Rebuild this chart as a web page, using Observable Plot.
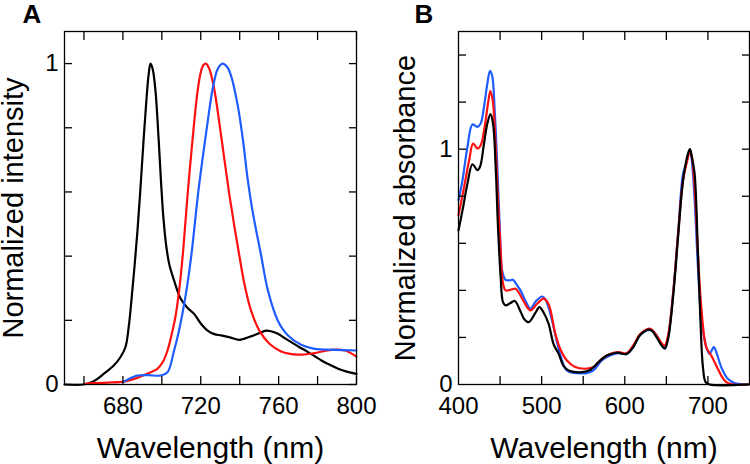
<!DOCTYPE html>
<html><head><meta charset="utf-8">
<script src="https://cdn.jsdelivr.net/npm/d3@7"></script>
<script src="https://cdn.jsdelivr.net/npm/@observablehq/plot@0.6"></script>
<style>
body{margin:0;background:#fff;}
#wrap{display:flex;width:750px;height:464px;}
#wrap svg{overflow:visible;display:block;}
</style></head><body><div id="wrap"></div>
<script>
// ---- Panel A: emission spectra [wavelength nm, normalized intensity]
const emBlack = [[650,0],[659.8,0],[665,0.01],[670.1,0.033],[675.3,0.059],[678.7,0.085],[681.3,0.116],[683,0.18],[684.5,0.27],[686,0.37],[687.5,0.48],[689,0.61],[690.5,0.75],[692,0.88],[693.2,0.965],[694.2,1.0],[695.4,0.98],[696.8,0.91],[698.3,0.77],[699.6,0.63],[700.8,0.52],[702.3,0.43],[703.9,0.372],[706.3,0.324],[709.7,0.267],[713,0.24],[716.6,0.22],[720,0.19],[723.5,0.168],[727,0.157],[730.4,0.153],[735,0.147],[739.8,0.139],[742.5,0.143],[745.8,0.15],[750,0.16],[753.6,0.168],[756.5,0.165],[759.6,0.158],[763,0.145],[766.5,0.132],[770.5,0.117],[775.1,0.101],[782,0.075],[786,0.062],[790.6,0.049],[795,0.04],[800,0.033]];
const emRed = [[660.7,0.002],[665,0.004],[672,0.006],[680.5,0.009],[685,0.016],[689.1,0.025],[693.5,0.036],[697.7,0.049],[700.5,0.07],[702.9,0.106],[705,0.155],[707.1,0.215],[709.2,0.31],[711,0.42],[713.2,0.589],[715.8,0.765],[718.3,0.911],[720,0.973],[721.3,0.995],[722.6,1.0],[724.3,0.985],[726.9,0.921],[729.5,0.817],[732.1,0.703],[734.6,0.595],[737.2,0.495],[739.8,0.402],[742.4,0.314],[745.8,0.231],[750.1,0.168],[755.3,0.127],[761.3,0.103],[770,0.093],[778.5,0.098],[787.1,0.108],[794,0.106],[800,0.087]];
const emBlue = [[680.5,0.009],[684,0.02],[687.4,0.028],[693,0.029],[699.4,0.028],[702.9,0.038],[706.3,0.106],[708.9,0.17],[712.3,0.28],[715.3,0.41],[718.3,0.578],[720.9,0.703],[723.5,0.817],[726.1,0.921],[728.7,0.983],[731.2,1.0],[733.5,0.99],[735.5,0.963],[739,0.869],[741.6,0.765],[744.1,0.64],[746.7,0.537],[751,0.402],[754.5,0.293],[759.6,0.199],[764.8,0.153],[771.6,0.124],[778.5,0.111],[788.8,0.108],[800,0.106]];

// ---- Panel B: absorption spectra [wavelength nm, normalized absorbance]
const absBlue = [[400,0.783],[404.8,0.868],[410.8,1.01],[416.8,1.105],[422.7,1.095],[426.7,1.109],[430.7,1.18],[434.7,1.279],[437.9,1.333],[440.7,1.308],[443.5,1.166],[446.7,0.925],[449.9,0.641],[452.7,0.48],[456.6,0.445],[462,0.443],[465.4,0.445],[470.6,0.421],[474.6,0.4],[480.6,0.355],[486.5,0.322],[492.6,0.352],[500.5,0.374],[504.5,0.362],[508.5,0.325],[512.5,0.272],[518.5,0.18],[524.5,0.102],[529,0.065],[534.4,0.052],[542.4,0.048],[554.4,0.048],[562.4,0.06],[572.3,0.102],[582.3,0.123],[592.3,0.133],[602.3,0.13],[610.2,0.159],[618.2,0.209],[626.2,0.23],[632.2,0.23],[638.2,0.209],[644.2,0.173],[648.1,0.159],[652.1,0.201],[658.1,0.386],[664.1,0.641],[670.1,0.896],[674.1,0.94],[678,0.995],[680,0.97],[684,0.783],[688,0.499],[692,0.287],[698,0.159],[702,0.13],[707,0.159],[710,0.138],[716,0.074],[723.9,0.024],[731.9,0.006],[749,0]];
const absRed = [[400,0.719],[406.8,0.84],[412.8,0.953],[417.6,1.024],[422.7,1.003],[426.7,1.017],[431.5,1.095],[435.5,1.194],[438.3,1.247],[441.1,1.209],[444.3,1.038],[447.5,0.783],[450.7,0.57],[453.5,0.43],[456.6,0.4],[462,0.402],[468.6,0.407],[472.6,0.39],[478.6,0.352],[486.5,0.315],[494.5,0.343],[502.5,0.365],[508.5,0.34],[516.4,0.216],[522.5,0.15],[530.4,0.102],[540.4,0.074],[552.4,0.067],[562.4,0.074],[572.3,0.109],[582.3,0.13],[592.3,0.138],[602.3,0.133],[610.2,0.166],[618.2,0.213],[628.2,0.237],[632.2,0.234],[638.2,0.209],[644.2,0.176],[648.1,0.166],[652.1,0.209],[658.1,0.386],[664.1,0.641],[670.1,0.868],[676.1,0.967],[678.5,0.998],[681,0.96],[684,0.84],[688,0.556],[692,0.329],[698,0.159],[704,0.123],[710,0.081],[716,0.038],[722,0.01],[730,0],[749,0]];
const absBlack = [[400,0.655],[404.8,0.74],[410.8,0.854],[416.8,0.936],[422.7,0.911],[425.9,0.925],[430.7,1.024],[434.7,1.109],[438.5,1.149],[441.5,1.109],[444.7,0.925],[447.5,0.67],[450.7,0.457],[453.5,0.35],[456.6,0.336],[462,0.345],[467.7,0.355],[474.6,0.31],[479.6,0.275],[484.5,0.265],[492.6,0.305],[497.3,0.329],[502.5,0.305],[508.4,0.258],[514.5,0.17],[520.4,0.131],[526.5,0.078],[532.4,0.06],[546.4,0.052],[558.4,0.062],[568.4,0.095],[578.3,0.123],[590.3,0.135],[602.3,0.13],[610.2,0.159],[618.2,0.209],[628.2,0.233],[632.2,0.23],[638.2,0.201],[644.2,0.166],[648.1,0.152],[652.1,0.194],[658.1,0.372],[664.1,0.627],[670.1,0.868],[676.1,0.982],[678.3,1.0],[681,0.96],[684,0.896],[688,0.556],[690.8,0.287],[694,0.074],[697.2,0.01],[702,0],[749,0]];

// ---- ticks
const aXTicks = [660, 680, 700, 720, 740, 760, 780, 800];
const aXLabels = [680, 720, 760, 800];
const aYTicks = [0, 0.2, 0.4, 0.6, 0.8, 1.0];
const aYLabels = [0, 1];
const bXTicks = [450, 500, 550, 600, 650, 700];
const bXLabels = [400, 500, 600, 700];
const bYTicks = [0.2, 0.4, 0.6, 0.8, 1.0, 1.2, 1.4];
const bYLabels = [0, 1];

const FONT = "'Liberation Sans', Arial, Helvetica, sans-serif";
const BLUE = "#1f5cff", RED = "#ff1010", BLACK = "#000000";

function panel(o) {
  return Plot.plot({
    width: o.width, height: 464,
    marginLeft: o.marginLeft, marginRight: o.marginRight, marginTop: 31, marginBottom: 80,
    x: {domain: o.xDomain},
    y: {domain: o.yDomain},
    style: {fontFamily: FONT, background: "transparent", overflow: "visible", color: "#000"},
    marks: [
      ...o.series.map(s => Plot.line(s.data, {x: d => d[0], y: d => d[1], stroke: s.color, strokeWidth: 2.2, curve: "catmull-rom"})),
      Plot.frame({stroke: "#000", strokeWidth: 1.3}),
      Plot.axisX({anchor: "bottom", ticks: o.xTicks, tickSize: -8, tickFormat: () => "", label: null, strokeWidth: 1.3}),
      Plot.axisX({anchor: "top", ticks: o.xTicks, tickSize: -8, tickFormat: () => "", label: null, strokeWidth: 1.3}),
      Plot.axisY({anchor: "left", ticks: o.yTicks, tickSize: -8, tickFormat: () => "", label: null, strokeWidth: 1.3}),
      Plot.axisY({anchor: "right", ticks: o.yTicks, tickSize: -8, tickFormat: () => "", label: null, strokeWidth: 1.3}),
      Plot.axisX({anchor: "bottom", ticks: o.xLabels, tickSize: 0, tickPadding: 12, fontSize: 24, label: null, tickFormat: d => String(d)}),
      Plot.axisY({anchor: "left", ticks: o.yLabels, tickSize: 0, tickPadding: 6, fontSize: 24, label: null, tickFormat: d => String(d)}),
      Plot.text(["Wavelength (nm)"], {frameAnchor: "bottom", textAnchor: "middle", lineAnchor: "middle", dy: 64, fontSize: 30}),
      Plot.text([o.ylabel], {frameAnchor: "left", textAnchor: "middle", lineAnchor: "middle", rotate: -90, dx: o.ylabelDx, fontSize: 29}),
      Plot.text([o.letter], {frameAnchor: "top-left", textAnchor: "start", lineAnchor: "middle", dx: o.letterDx, dy: -17, fontSize: 26, fontWeight: "bold"})
    ]
  });
}

const wrap = document.getElementById("wrap");
wrap.append(panel({
  width: 380, marginLeft: 64, marginRight: 24,
  xDomain: [650, 800], yDomain: [0, 1.1],
  xTicks: aXTicks, xLabels: aXLabels, yTicks: aYTicks, yLabels: aYLabels,
  series: [{data: emBlack, color: BLACK}, {data: emRed, color: RED}, {data: emBlue, color: BLUE}],
  ylabel: "Normalized intensity", ylabelDx: -51, letter: "A", letterDx: -42
}));
wrap.append(panel({
  width: 370, marginLeft: 78, marginRight: 1,
  xDomain: [400, 750], yDomain: [0, 1.5],
  xTicks: bXTicks, xLabels: bXLabels, yTicks: bYTicks, yLabels: bYLabels,
  series: [{data: absBlue, color: BLUE}, {data: absRed, color: RED}, {data: absBlack, color: BLACK}],
  ylabel: "Normalized absorbance", ylabelDx: -53, letter: "B", letterDx: -44
}));
</script></body></html>
